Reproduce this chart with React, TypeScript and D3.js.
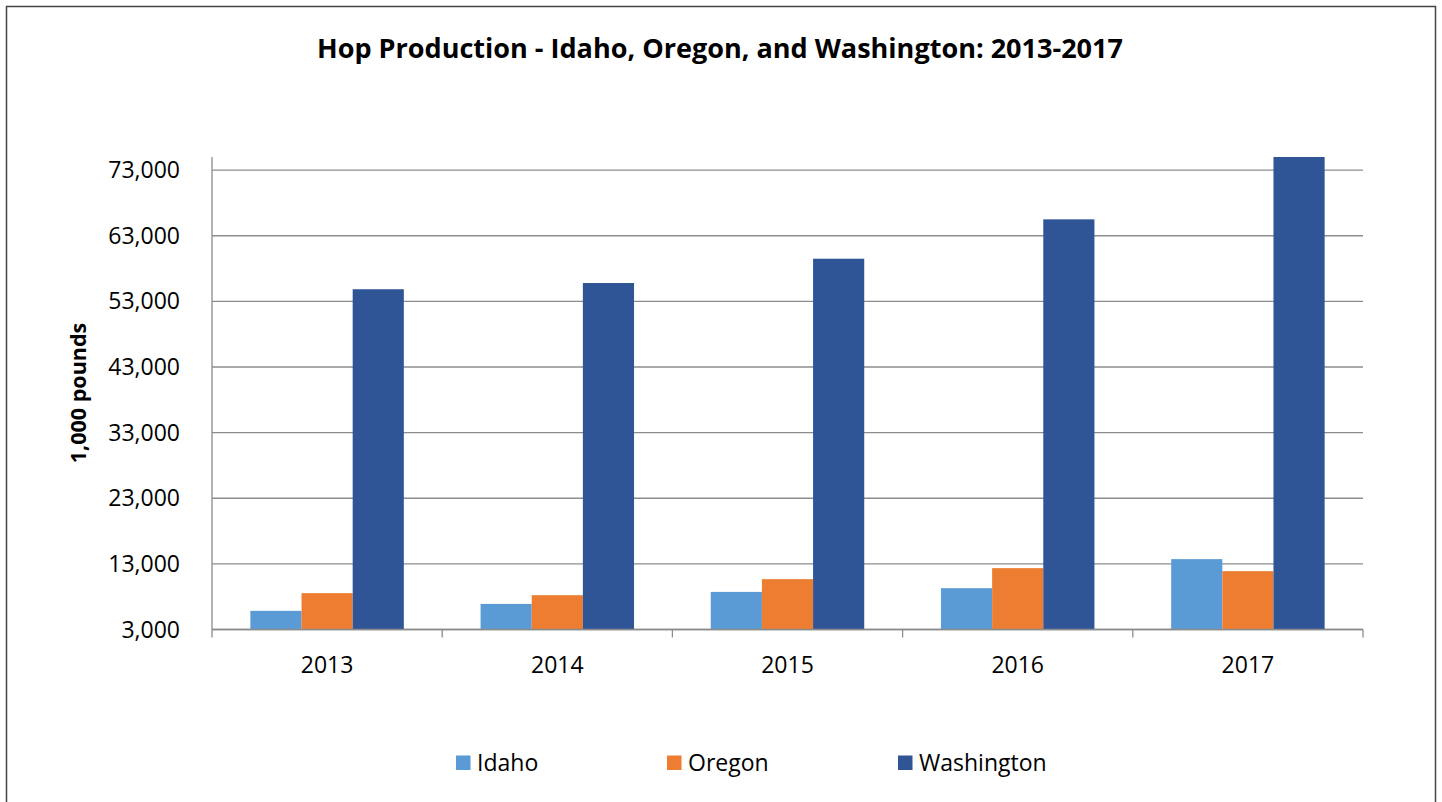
import React from 'react';
import * as d3 from 'd3';

const years = ['2013', '2014', '2015', '2016', '2017'];
const seriesNames = ['Idaho', 'Oregon', 'Washington'];
const idaho = [5840, 6900, 8730, 9300, 13720];
const oregon = [8540, 8230, 10670, 12350, 11890];
const washington = [54850, 55800, 59500, 65500, 75000];
const yTicks = [3000, 13000, 23000, 33000, 43000, 53000, 63000, 73000];
const colors = ['#5B9BD5', '#ED7D31', '#2F5597'];

const W = 1442;
const H = 802;
const plot = { left: 212, right: 1363, top: 157, bottom: 629.5 };
const font = '"Open Sans", sans-serif';

const App = () => {
  const values = [idaho, oregon, washington];

  const x = d3.scaleBand<string>().domain(years).range([plot.left, plot.right]).padding(0);
  const bw = x.bandwidth();
  const xs = d3.scaleBand<string>().domain(seriesNames).range([bw / 6, (bw * 5) / 6]).padding(0);
  const y = d3.scaleLinear().domain([3000, 75000]).range([plot.bottom, plot.top]).clamp(true);
  const fmt = d3.format(',');

  const boundaries = years.map(yr => x(yr) as number).concat([plot.right]);
  const legendX = [456, 667, 898];

  return (
    <svg width={W} height={H} style={{ position: 'absolute', left: 0, top: 0, background: '#fff' }}>
      <rect x={6.5} y={6.5} width={1429} height={820} fill="#fff" stroke="#444" strokeWidth={1.5} />

      <text x={317} y={57.5} fontFamily={font} fontWeight="bold" fontSize={26.5}
        textLength={806} lengthAdjust="spacingAndGlyphs" fill="#000">
        Hop Production - Idaho, Oregon, and Washington: 2013-2017
      </text>

      {/* gridlines */}
      {yTicks.map(t => (
        <line key={t} x1={plot.left} x2={plot.right} y1={y(t)} y2={y(t)} stroke="#8c8c8c" strokeWidth={1.3} />
      ))}

      {/* bars */}
      {years.map((yr, i) => (
        <g key={yr} transform={`translate(${x(yr)},0)`}>
          {seriesNames.map((s, j) => (
            <rect key={s} x={xs(s)} width={xs.bandwidth()} y={y(values[j][i])}
              height={plot.bottom - y(values[j][i])} fill={colors[j]} />
          ))}
        </g>
      ))}

      {/* axes */}
      <line x1={plot.left} x2={plot.left} y1={plot.top} y2={plot.bottom} stroke="#8c8c8c" strokeWidth={1.3} />
      <line x1={plot.left} x2={plot.right} y1={plot.bottom} y2={plot.bottom} stroke="#8c8c8c" strokeWidth={1.3} />
      {boundaries.map((b, i) => (
        <line key={i} x1={b} x2={b} y1={plot.bottom} y2={plot.bottom + 8} stroke="#8c8c8c" strokeWidth={1.3} />
      ))}

      {yTicks.map(t => (
        <text key={t} x={180} y={y(t) + 8} textAnchor="end" fontFamily={font} fontSize={23} fill="#000">
          {fmt(t)}
        </text>
      ))}

      {years.map(yr => (
        <text key={yr} x={(x(yr) as number) + bw / 2} y={672.5} textAnchor="middle" fontFamily={font} fontSize={23} fill="#000">
          {yr}
        </text>
      ))}

      <text transform={`translate(86,393) rotate(-90)`} textAnchor="middle" fontFamily={font}
        fontWeight="bold" fontSize={21.5} fill="#000">
        1,000 pounds
      </text>

      {/* legend */}
      {seriesNames.map((s, j) => (
        <g key={s}>
          <rect x={legendX[j]} y={755.5} width={14.5} height={14.5} fill={colors[j]} />
          <text x={legendX[j] + 21} y={770.5} fontFamily={font} fontSize={23} fill="#000">{s}</text>
        </g>
      ))}
    </svg>
  );
};

export default App;
